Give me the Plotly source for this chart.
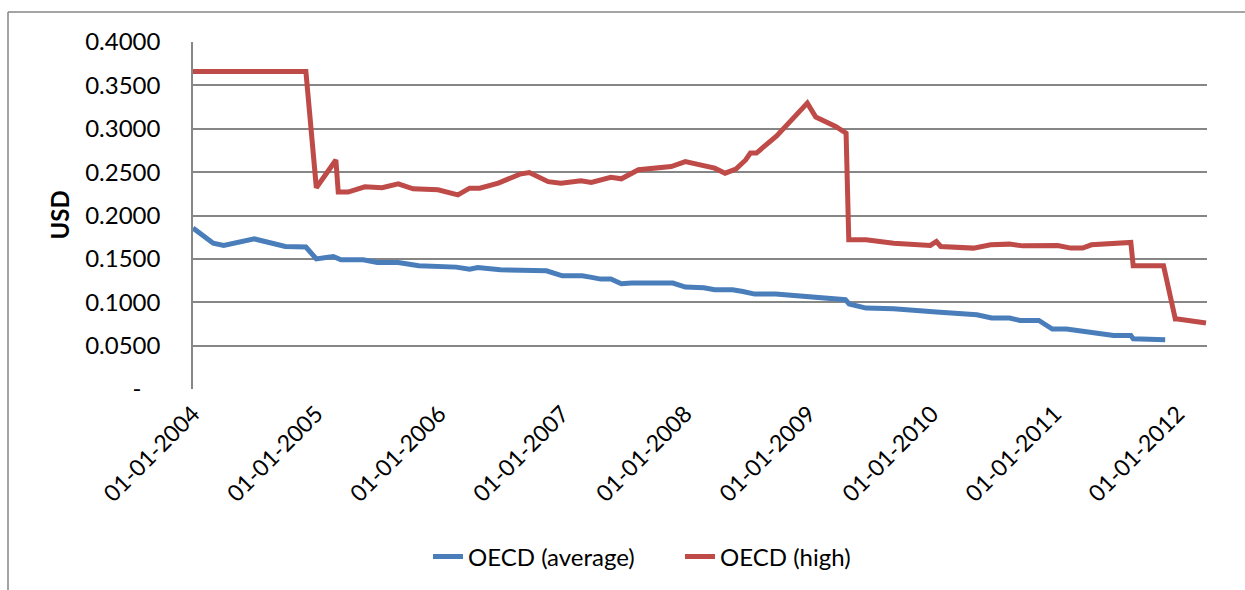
import plotly.graph_objects as go

# OECD average price series (USD)
avg_dates = [
    "2004-01-01", "2004-03-01", "2004-04-01", "2004-07-01", "2004-10-01", "2004-12-01",
    "2005-01-01", "2005-02-20", "2005-03-15", "2005-05-20", "2005-07-01", "2005-09-01",
    "2005-11-01", "2006-02-01", "2006-02-20", "2006-04-01", "2006-04-25", "2006-07-01",
    "2006-10-25", "2006-11-15", "2007-01-01", "2007-03-01", "2007-03-25", "2007-04-25",
    "2007-05-25", "2007-06-25", "2007-07-25", "2007-11-25", "2008-01-01", "2008-02-25",
    "2008-03-28", "2008-05-20", "2008-06-20", "2008-07-25", "2008-09-25", "2009-01-01",
    "2009-04-20", "2009-05-01", "2009-06-20", "2009-09-10", "2009-12-15", "2010-01-15",
    "2010-05-15", "2010-06-28", "2010-08-20", "2010-09-20", "2010-11-15", "2010-12-25",
    "2011-02-05", "2011-05-08", "2011-06-25", "2011-08-15", "2011-08-22", "2011-11-25",
]
avg_values = [
    0.1855, 0.1680, 0.1655, 0.1730, 0.1643, 0.1636,
    0.1500, 0.1528, 0.1490, 0.1490, 0.1459, 0.1459,
    0.1420, 0.1405, 0.1405, 0.1382, 0.1400, 0.1374,
    0.1374, 0.1363, 0.1305, 0.1305, 0.1290, 0.1267,
    0.1267, 0.1213, 0.1221, 0.1221, 0.1175, 0.1167,
    0.1144, 0.1144, 0.1124, 0.1094, 0.1094, 0.1060,
    0.1029, 0.0980, 0.0933, 0.0925, 0.0887, 0.0887,
    0.0856, 0.0818, 0.0818, 0.0790, 0.0790, 0.0691,
    0.0691, 0.0652, 0.0618, 0.0618, 0.0580, 0.0568,
]

# OECD high price series (USD)
high_dates = [
    "2004-01-01", "2004-12-01", "2005-01-01", "2005-02-28", "2005-03-07", "2005-04-05",
    "2005-05-25", "2005-07-15", "2005-09-01", "2005-09-25", "2005-10-15", "2005-12-28",
    "2006-02-25", "2006-04-01", "2006-05-01", "2006-06-25", "2006-08-28", "2006-09-25",
    "2006-11-20", "2006-12-28", "2007-02-25", "2007-03-28", "2007-05-25", "2007-06-25",
    "2007-08-15", "2007-11-20", "2008-01-01", "2008-03-28", "2008-04-28", "2008-05-30",
    "2008-06-28", "2008-07-12", "2008-07-30", "2008-09-28", "2008-12-28", "2009-01-22",
    "2009-03-22", "2009-04-22", "2009-04-30", "2009-06-20", "2009-09-10", "2009-12-28",
    "2010-01-15", "2010-01-28", "2010-04-05", "2010-05-05", "2010-06-25", "2010-08-20",
    "2010-09-28", "2011-01-10", "2011-02-18", "2011-03-25", "2011-04-20", "2011-05-22",
    "2011-06-25", "2011-08-15", "2011-08-22", "2011-11-20", "2011-12-25", "2012-01-01",
    "2012-03-25",
]
high_values = [
    0.3660, 0.3660, 0.2320, 0.2640, 0.2270, 0.2270,
    0.2330, 0.2320, 0.2365, 0.2340, 0.2307, 0.2296,
    0.2238, 0.2315, 0.2315, 0.2373, 0.2477, 0.2495,
    0.2390, 0.2373, 0.2400, 0.2380, 0.2440, 0.2423,
    0.2527, 0.2565, 0.2622, 0.2546, 0.2488, 0.2535,
    0.2640, 0.2720, 0.2720, 0.2918, 0.3295, 0.3134,
    0.3026, 0.2950, 0.1720, 0.1720, 0.1680, 0.1655,
    0.1700, 0.1643, 0.1624, 0.1624, 0.1662, 0.1670,
    0.1650, 0.1655, 0.1624, 0.1624, 0.1662, 0.1670,
    0.1690, 0.1690, 0.1420, 0.1420, 0.0806, 0.0806,
    0.0760,
]

y_tick_values = [0, 0.05, 0.10, 0.15, 0.20, 0.25, 0.30, 0.35, 0.40]
y_tick_labels = ["-\u2007\u2008", "0.0500", "0.1000", "0.1500", "0.2000",
                 "0.2500", "0.3000", "0.3500", "0.4000"]

FONT = "Lato, 'Open Sans', sans-serif"
GRID = "#868686"
BLUE = "#4A7EBB"
RED = "#BE4B48"

W, H = 1245, 590
L, R, T, B = 193, 38, 42, 201
plot_w = W - L - R
plot_h = H - T - B


def px_x(px):
    return (px - L) / plot_w


def px_y(py):
    return (H - B - py) / plot_h


fig = go.Figure()
fig.add_trace(go.Scatter(
    x=avg_dates, y=avg_values, mode="lines", name="OECD (average)",
    line=dict(color=BLUE, width=5),
))
fig.add_trace(go.Scatter(
    x=high_dates, y=high_values, mode="lines", name="OECD (high)",
    line=dict(color=RED, width=5),
))

fig.update_layout(
    width=W, height=H,
    margin=dict(l=L, r=R, t=T, b=B, autoexpand=False),
    paper_bgcolor="white", plot_bgcolor="white",
    font=dict(family=FONT, size=24, color="black"),
    showlegend=True,
    legend=dict(
        orientation="h", x=px_x(428), y=px_y(557), xanchor="left", yanchor="middle",
        font=dict(size=24), itemwidth=30, entrywidth=207, bgcolor="rgba(0,0,0,0)",
    ),
    xaxis=dict(
        type="date",
        range=["2004-01-01", "2012-03-28"],
        tick0="2004-01-01", dtick="M12", tickformat="%d-%m-%Y",
        tickangle=-45, ticks="", ticklabelstandoff=6,
        showgrid=False, showline=False, zeroline=False,
        tickfont=dict(size=23),
        automargin=False,
    ),
    yaxis=dict(
        range=[0, 0.4],
        tickvals=y_tick_values, ticktext=y_tick_labels,
        showgrid=True, gridcolor=GRID, gridwidth=1.5,
        showline=True, linecolor=GRID, linewidth=1.5,
        zeroline=False, ticks="", ticklabelstandoff=26,
        automargin=False,
    ),
    annotations=[
        dict(text="<b>USD</b>", textangle=-90, xref="paper", yref="paper",
             x=px_x(59), y=0.5, xanchor="center", yanchor="middle",
             showarrow=False, font=dict(size=24)),
    ],
    shapes=[
        # outer chart frame (left and top edges)
        dict(type="line", xref="paper", yref="paper",
             x0=px_x(8), x1=px_x(8), y0=px_y(12), y1=px_y(H + 5),
             line=dict(color=GRID, width=1.5)),
        dict(type="line", xref="paper", yref="paper",
             x0=px_x(8), x1=px_x(W + 5), y0=px_y(12), y1=px_y(12),
             line=dict(color=GRID, width=1.5)),
    ],
)

fig.write_html("out.html")
